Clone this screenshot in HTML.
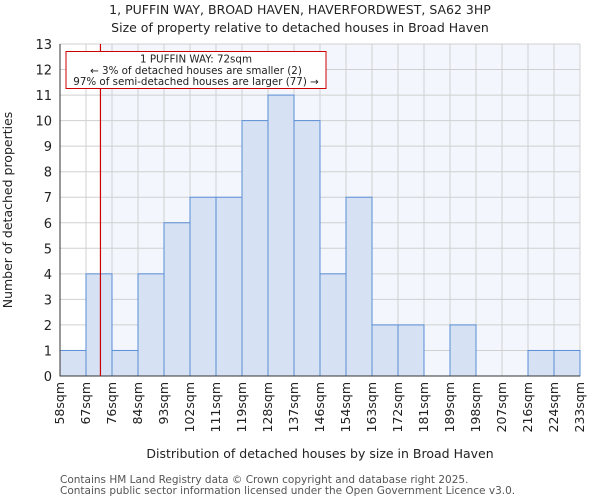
<!DOCTYPE html>
<html><head><meta charset="utf-8"><style>
body{margin:0;background:#fff;font-family:"DejaVu Sans","Liberation Sans",sans-serif;}
text{font-family:"DejaVu Sans","Liberation Sans",sans-serif;fill:#222;}
</style></head><body>
<svg id="chart" width="600" height="500" xmlns="http://www.w3.org/2000/svg">
<text x="300" y="14" text-anchor="middle" font-size="12.5">1, PUFFIN WAY, BROAD HAVEN, HAVERFORDWEST, SA62 3HP</text>
<text x="300" y="32" text-anchor="middle" font-size="12.5">Size of property relative to detached houses in Broad Haven</text>
<g id="plot"></g>
<text x="320" y="458" text-anchor="middle" font-size="12.5">Distribution of detached houses by size in Broad Haven</text>
<text transform="translate(12,210) rotate(-90)" text-anchor="middle" font-size="12.5">Number of detached properties</text>
<text x="60" y="483" font-size="10.5" style="fill:#555">Contains HM Land Registry data © Crown copyright and database right 2025.</text>
<text x="60" y="494" font-size="10.5" style="fill:#555">Contains public sector information licensed under the Open Government Licence v3.0.</text>
</svg>
<script>
const binLabels=["58sqm","67sqm","76sqm","84sqm","93sqm","102sqm","111sqm","119sqm","128sqm","137sqm","146sqm","154sqm","163sqm","172sqm","181sqm","189sqm","198sqm","207sqm","216sqm","224sqm","233sqm"];
const counts=[1,4,1,4,6,7,7,10,11,10,4,7,2,2,0,2,0,0,1,1];
const yTicks=[0,1,2,3,4,5,6,7,8,9,10,11,12,13];
const subjectSize=72;
const binEdges=[58,67,76,84,93,102,111,119,128,137,146,154,163,172,181,189,198,207,216,224,233];
const NS="http://www.w3.org/2000/svg";
const g=document.getElementById('plot');
const X0=60,X1=580,Y0=376,Y1=44,yMax=13;
const bw=(X1-X0)/counts.length;
const xs=i=>X0+i*bw;
const ys=v=>Y0-(Y0-Y1)*v/yMax;
function mk(t,a){const e=document.createElementNS(NS,t);for(const k in a)e.setAttribute(k,a[k]);g.appendChild(e);return e;}
let si=0;for(let i=0;i<binEdges.length-1;i++){if(subjectSize>=binEdges[i]&&subjectSize<binEdges[i+1])si=i;}
const sx=xs(si)+bw*(subjectSize-binEdges[si])/(binEdges[si+1]-binEdges[si]);
let bg=mk('rect',{x:X0,y:Y1,width:X1-X0,height:Y0-Y1,fill:'#fff'});


let bg2=mk('rect',{x:sx,y:Y1,width:X1-sx,height:Y0-Y1,fill:'#f3f6fd'});


yTicks.forEach(v=>{
 const l=mk('line',{x1:X0,x2:X1,y1:ys(v),y2:ys(v),stroke:'#d0d0d0','stroke-width':1});
 
 
 const t=mk('text',{x:X0-8,y:ys(v)+5,'text-anchor':'end','font-size':'13'});t.textContent=v;
 
 
});
binLabels.forEach((s,i)=>{
 const l=mk('line',{x1:xs(i),x2:xs(i),y1:Y1,y2:Y0,stroke:'#d0d0d0','stroke-width':1});
 
 
 const x=xs(i),y=Y0+6;
 const t=mk('text',{x:x+4,y:y,'text-anchor':'end','font-size':'12.5',transform:`rotate(-90 ${x+4} ${y})`});t.textContent=s;
 
 
});
counts.forEach((c,i)=>{
 if(c<=0)return;
 const r=mk('rect',{x:xs(i),y:ys(c),width:bw,height:Y0-ys(c),fill:'#d6e1f3',stroke:'#5a8ed6','stroke-width':1});
 
 
});
const ax=mk('path',{d:`M${X0} ${Y1}V${Y0}H${X1}`,fill:'none',stroke:'#333','stroke-width':1});


const rl=mk('line',{x1:sx,x2:sx,y1:Y1,y2:Y0,stroke:'#cc0000','stroke-width':1.2});


const box=mk('rect',{x:66,y:51.5,width:260,height:37,fill:'#fff',stroke:'#cc0000','stroke-width':1});


["1 PUFFIN WAY: 72sqm","← 3% of detached houses are smaller (2)","97% of semi-detached houses are larger (77) →"].forEach((s,i)=>{
 const t=mk('text',{x:196,y:62.5+i*11.3,'text-anchor':'middle','font-size':'10.3'});t.textContent=s;
 
 
});
</script>
</body></html>
